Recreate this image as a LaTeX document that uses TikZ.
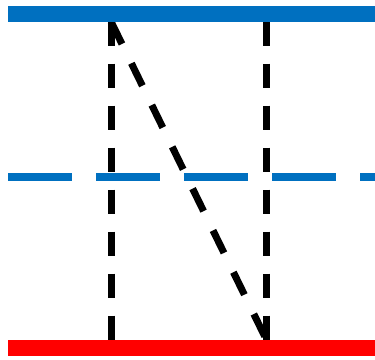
\documentclass[tikz,border=0pt]{standalone}
\definecolor{barblue}{HTML}{0070C0}
\definecolor{barred}{HTML}{FF0000}
\tikzset{
  link/.style={black, line width=7pt, dash pattern=on 24pt off 18pt},
  slantlink/.style={black, line width=7pt, dash pattern=on 25pt off 21.5pt},
  topbar/.style={barblue, line width=16pt},
  midbar/.style={barblue, line width=8pt, dash pattern=on 64pt off 24pt},
  botbar/.style={barred, line width=16pt}
}
\begin{document}
\begin{tikzpicture}[x=1pt,y=-1pt]
\useasboundingbox (0,0) rectangle (375,359);
% endpoints
\coordinate (tl) at (111,21.5);
\coordinate (tr) at (266.5,21.5);
\coordinate (bl) at (111,340);
\coordinate (br) at (266.5,340);
% connectors
\draw[link] (tl) -- (bl);
\draw[link] (tr) -- (br);
\draw[slantlink] (tl) -- (br);
% levels
\coordinate (t0) at (8,13.5);
\coordinate (t1) at (375,13.5);
\coordinate (m0) at (8,177);
\coordinate (m1) at (375,177);
\coordinate (b0) at (8,348);
\coordinate (b1) at (375,348);
\draw[topbar] (t0) -- (t1);
\draw[midbar] (m0) -- (m1);
\draw[botbar] (b0) -- (b1);
\end{tikzpicture}
\end{document}
